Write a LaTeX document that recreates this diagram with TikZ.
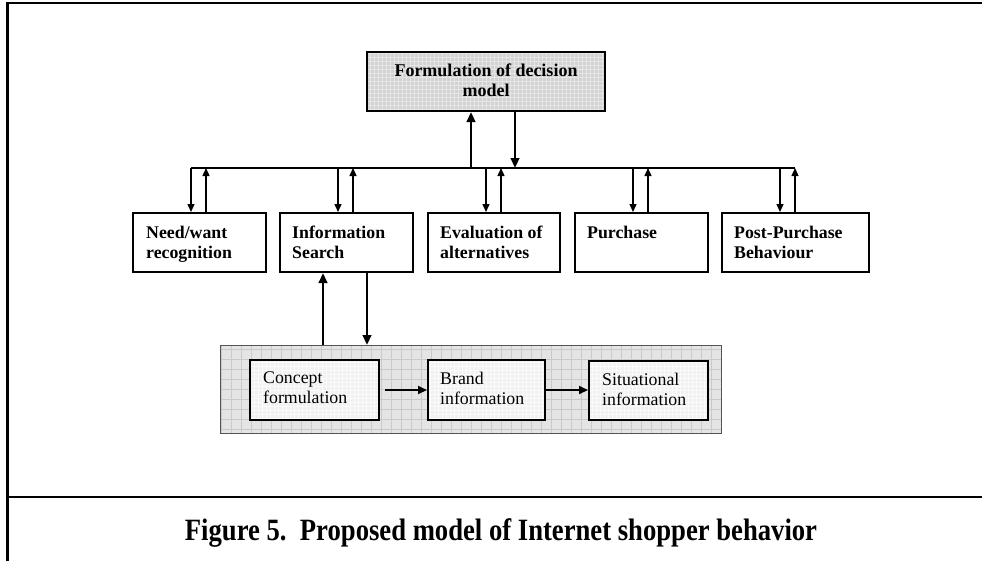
\documentclass[tikz,border=0pt]{standalone}
\usepackage{fontspec}
\setmainfont{Liberation Serif}
\usetikzlibrary{arrows.meta}
\definecolor{topfill}{HTML}{D2D2D2}
\definecolor{topgrid}{HTML}{E6E6E6}
\definecolor{panelfill}{HTML}{E4E4E4}
\definecolor{panelgrid}{HTML}{C9C9C9}
\definecolor{panelline}{HTML}{555555}
\definecolor{innerfill}{HTML}{F1F1F1}
\definecolor{innergrid}{HTML}{FBFBFB}
\tikzset{
  framestyle/.style={line width=2.7pt},
  busstyle/.style={line width=2pt},
  stagebox/.style={draw, line width=2pt, fill=white, minimum height=59pt,
    anchor=north west, inner sep=0pt},
  topbox/.style={draw, line width=2pt, fill=topfill, anchor=north west,
    minimum width=238pt, minimum height=59pt, inner sep=0pt,
    path picture={\draw[topgrid, line width=0.5pt]
      (path picture bounding box.south west) grid[step=4pt]
      (path picture bounding box.north east);}},
  panelbox/.style={draw=panelline, line width=1pt, fill=panelfill, anchor=north west,
    inner sep=0pt,
    path picture={\draw[panelgrid, line width=0.6pt]
      (path picture bounding box.south west) grid[step=10pt]
      (path picture bounding box.north east);}},
  innerbox/.style={draw, line width=2pt, fill=innerfill, anchor=north west,
    inner sep=0pt,
    path picture={\draw[innergrid, line width=0.6pt]
      (path picture bounding box.south west) grid[step=4pt]
      (path picture bounding box.north east);}},
  boldtxt/.style={font=\bfseries\fontsize{17.8}{20}\selectfont, align=left,
    anchor=north west, inner sep=0pt},
  regtxt/.style={font=\fontsize{17.8}{20}\selectfont, align=left,
    anchor=north west, inner sep=0pt},
  toptxt/.style={font=\bfseries\fontsize{18}{20}\selectfont, align=center,
    inner sep=0pt},
  thinarr/.style={line width=1.3pt, -{Triangle[length=8pt,width=7pt]}},
  medarr/.style={line width=2pt, -{Triangle[length=9pt,width=8pt]}},
  thickarr/.style={line width=2.8pt, -{Triangle[length=10pt,width=8.5pt]}},
}
\begin{document}
\begin{tikzpicture}[x=1pt, y=-1pt]
\useasboundingbox (0,0) rectangle (982,560);
% frame
\draw[framestyle] (7.5,565) -- (7.5,3) -- (990,3);
\draw[framestyle] (7.5,497) -- (990,497);

% top box
\node[topbox] (top) at (366,51) {};
\node[toptxt] (toptext) at ([yshift=1.5pt]top.center) {Formulation of decision\\model};

% bus
\coordinate (busL) at (191,168);
\coordinate (busR) at (795,168);
\draw[busstyle] (busL) -- (busR);

% arrows between top box and bus
\draw[thickarr] ([xshift=105pt]top.south west |- busL) -- ([xshift=105pt]top.south west);
\draw[thickarr] ([xshift=149pt]top.south west) -- ([xshift=149pt]top.south west |- busL);

% stage boxes
\node[stagebox, minimum width=133pt] (need) at (132,212) {};
\node[stagebox, minimum width=133pt] (info) at (279,212) {};
\node[stagebox, minimum width=132pt] (eval) at (427,212) {};
\node[stagebox, minimum width=133pt] (purch) at (574,212) {};
\node[stagebox, minimum width=147pt] (post) at (721,212) {};

\node[boldtxt] (needtxt) at ([shift={(14pt,-13.5pt)}]need.north west) {Need/want\\recognition};
\node[boldtxt] (infotxt) at ([shift={(13pt,-13.5pt)}]info.north west) {Information\\Search};
\node[boldtxt] (evaltxt) at ([shift={(13pt,-13.5pt)}]eval.north west) {Evaluation of\\alternatives};
\node[boldtxt] (purchtxt) at ([shift={(13pt,-13.5pt)}]purch.north west) {Purchase};
\node[boldtxt] (posttxt) at ([shift={(13pt,-13.5pt)}]post.north west) {Post-Purchase\\Behaviour};

% arrows between bus and stage boxes
\foreach \b in {need,info,eval,purch,post} {
  \draw[thinarr] ([xshift=59pt]\b.north west |- busL) -- ([xshift=59pt]\b.north west);
  \draw[thinarr] ([xshift=74pt]\b.north west) -- ([xshift=74pt]\b.north west |- busL);
}

% lower panel
\node[panelbox, minimum width=501pt, minimum height=88pt] (panel) at (220,345) {};
\node[innerbox, minimum width=129pt, minimum height=60pt] (concept) at (249,359) {};
\node[innerbox, minimum width=117pt, minimum height=60pt] (brand) at (427,359) {};
\node[innerbox, minimum width=119pt, minimum height=59pt] (sit) at (588,360) {};

\node[regtxt] (concepttxt) at ([shift={(14pt,-12.5pt)}]concept.north west) {Concept\\formulation};
\node[regtxt] (brandtxt) at ([shift={(13pt,-12.5pt)}]brand.north west) {Brand\\information};
\node[regtxt] (sittxt) at ([shift={(14pt,-12.5pt)}]sit.north west) {Situational\\information};

\draw[medarr] ([xshift=5pt]concept.east) -- (brand.west);
\draw[medarr] (brand.east) -- (sit.west |- brand.east);

% arrows between info box and panel
\draw[thickarr] ([xshift=44pt]info.south west |- panel.north) -- ([xshift=44pt]info.south west);
\draw[thickarr] ([xshift=88pt]info.south west) -- ([xshift=88pt]info.south west |- panel.north);

% caption
\node[font=\bfseries\fontsize{31}{36}\selectfont, anchor=base, inner sep=0pt] (cap) at (501,540)
  {\scalebox{0.86}[1]{Figure 5.\ \ Proposed model of Internet shopper behavior}};
\end{tikzpicture}
\end{document}
